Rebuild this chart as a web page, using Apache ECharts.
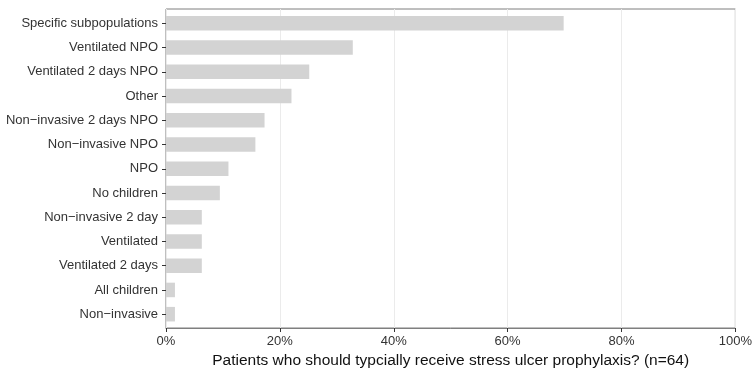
<!DOCTYPE html>
<html>
<head>
<meta charset="utf-8">
<script src="https://cdn.jsdelivr.net/npm/echarts@6/dist/echarts.min.js"></script>
<style>html,body{margin:0;padding:0;background:#fff}#chart{width:755px;height:375px}</style>
</head>
<body>
<div id="chart"></div>
<script>
var categories = ["Specific subpopulations","Ventilated NPO","Ventilated 2 days NPO","Other","Non\u2212invasive 2 days NPO","Non\u2212invasive NPO","NPO","No children","Non\u2212invasive 2 day","Ventilated","Ventilated 2 days","All children","Non\u2212invasive"];
var values = [69.4, 32.6, 25.0, 21.9, 17.2, 15.6, 10.9, 9.4, 6.25, 6.25, 6.25, 1.56, 1.56];
var xTicks = [0, 20, 40, 60, 80, 100];
var xTitle = "Patients who should typcially receive stress ulcer prophylaxis? (n=64)";

var font = "Liberation Sans, Arial, Helvetica, sans-serif";
var chart = echarts.init(document.getElementById('chart'), null, {renderer: 'canvas'});
chart.setOption({
  animation: false,
  backgroundColor: '#ffffff',
  grid: [
    {left: 166, right: 16, top: 9, bottom: 47, show: true, borderColor: '#7f7f7f', borderWidth: 1, backgroundColor: '#ffffff', z: 0},
    {left: 166, right: 16, top: 11.2, bottom: 48.7, show: false}
  ],
  xAxis: [
    {gridIndex: 0, type: 'value', min: xTicks[0], max: xTicks[xTicks.length-1], interval: 20,
     axisLine: {show: true, lineStyle: {color: '#7f7f7f', width: 1}},
     axisTick: {show: true, length: 4, lineStyle: {color: '#333333'}},
     axisLabel: {formatter: '{value}%', color: '#333333', fontSize: 13, fontFamily: font, margin: 7},
     splitLine: {show: true, lineStyle: {color: '#ebebeb', width: 1}},
     name: xTitle, nameLocation: 'middle', nameGap: 18,
     nameTextStyle: {color: '#111111', fontSize: 15.5, fontFamily: font}},
    {gridIndex: 1, type: 'value', min: xTicks[0], max: xTicks[xTicks.length-1], show: false}
  ],
  yAxis: [
    {gridIndex: 0, type: 'value', show: false, min: 0, max: 1},
    {gridIndex: 1, type: 'category', data: categories, inverse: true,
     axisLine: {show: false},
     axisTick: {show: true, length: 4, alignWithLabel: true, lineStyle: {color: '#333333'}},
     axisLabel: {color: '#333333', fontSize: 13, fontFamily: font, margin: 8},
     splitLine: {show: false}}
  ],
  series: [{
    type: 'bar', xAxisIndex: 1, yAxisIndex: 1, data: values, barWidth: '60%',
    itemStyle: {color: '#d3d3d3'}, silent: true, z: 3
  }]
});
</script>
</body>
</html>
